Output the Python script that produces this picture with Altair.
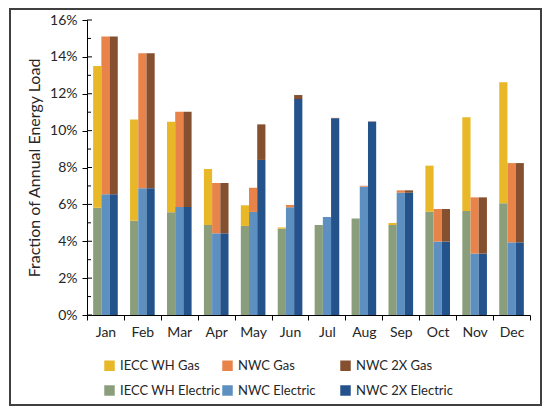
import altair as alt
import pandas as pd

# Datos (fraccion de la carga anual)
months = ["Jan", "Feb", "Mar", "Apr", "May", "Jun", "Jul", "Aug", "Sep", "Oct", "Nov", "Dec"]
groups = ["IECC WH", "NWC", "NWC 2X"]

iecc_elec = [0.0582, 0.0511, 0.0557, 0.0488, 0.0483, 0.0468, 0.0488, 0.0524, 0.0488, 0.0560, 0.0564, 0.0606]
iecc_gas = [0.0768, 0.0550, 0.0491, 0.0304, 0.0112, 0.0007, 0.0000, 0.0000, 0.0011, 0.0250, 0.0508, 0.0656]
nwc_elec = [0.0655, 0.0687, 0.0586, 0.0443, 0.0559, 0.0584, 0.0531, 0.0696, 0.0663, 0.0398, 0.0333, 0.0394]
nwc_gas = [0.0855, 0.0732, 0.0517, 0.0273, 0.0131, 0.0013, 0.0000, 0.0005, 0.0013, 0.0177, 0.0305, 0.0430]
x2_elec = [0.0655, 0.0687, 0.0586, 0.0443, 0.0841, 0.1171, 0.1067, 0.1048, 0.0663, 0.0398, 0.0333, 0.0394]
x2_gas = [0.0855, 0.0732, 0.0517, 0.0273, 0.0193, 0.0022, 0.0002, 0.0002, 0.0013, 0.0177, 0.0305, 0.0430]

series_names = ["IECC WH Gas", "NWC Gas", "NWC 2X Gas",
                "IECC WH Electric", "NWC Electric", "NWC 2X Electric"]
series_colors = ["#E9B828", "#E8844A", "#84502F", "#8A9E7C", "#5D8FC0", "#24528B"]

major_ticks = [0.0, 0.02, 0.04, 0.06, 0.08, 0.10, 0.12, 0.14, 0.16]
minor_ticks = [0.01, 0.03, 0.05, 0.07, 0.09, 0.11, 0.13, 0.15]

# Tabla larga con inicio y fin de cada segmento apilado
rows = []
for g, elec, gas in zip(groups, [iecc_elec, nwc_elec, x2_elec], [iecc_gas, nwc_gas, x2_gas]):
    for i, m in enumerate(months):
        rows.append({"month": m, "group": g, "series": g + " Electric", "y0": 0.0, "y1": elec[i]})
        rows.append({"month": m, "group": g, "series": g + " Gas", "y0": elec[i], "y1": elec[i] + gas[i]})
df = pd.DataFrame(rows)

font = "Lato"
text_color = "#262626"
y_title = "Fraction of Annual Energy Load"
y_scale = alt.Scale(domain=[0, 0.16], nice=False)
y_axis = alt.Axis(format=".0%", values=major_ticks, tickSize=5, labelPadding=5,
                  labelOverlap=False, labelFontSize=14, titleFontSize=16,
                  titleFontWeight="normal", titlePadding=7, grid=False,
                  domainColor="#000000", tickColor="#000000")

bars = alt.Chart(df).mark_bar(opacity=1).encode(
    x=alt.X("month:N", sort=months, title=None,
            scale=alt.Scale(paddingInner=0, paddingOuter=0),
            axis=alt.Axis(labelAngle=0, tickBand="extent", tickSize=5, labelPadding=5,
                          labelFontSize=14, domainColor="#000000", tickColor="#000000")),
    xOffset=alt.XOffset("group:N", sort=groups,
                        scale=alt.Scale(paddingInner=0, paddingOuter=0.75)),
    y=alt.Y("y0:Q", title=y_title, scale=y_scale, axis=y_axis),
    y2="y1:Q",
    color=alt.Color("series:N", title=None,
                    scale=alt.Scale(domain=series_names, range=series_colors),
                    legend=alt.Legend(orient="none", legendX=16, legendY=339, columns=3,
                                      direction="horizontal", gridAlign="all",
                                      symbolType="square", symbolSize=110,
                                      symbolStrokeWidth=0, symbolOpacity=1, labelFontSize=13,
                                      labelOffset=4, rowPadding=11, columnPadding=0,
                                      labelLimit=200)),
)

# marcas interiores de los ticks (mayores cruzan el eje, menores solo hacia dentro)
tick_major = alt.Chart(pd.DataFrame({"v": major_ticks})).mark_rule(color="#000000").encode(
    y=alt.Y("v:Q", title=y_title, scale=y_scale, axis=y_axis), x=alt.value(0), x2=alt.value(5)
)
tick_minor = alt.Chart(pd.DataFrame({"v": minor_ticks})).mark_rule(color="#000000").encode(
    y=alt.Y("v:Q", title=y_title, scale=y_scale, axis=y_axis), x=alt.value(0), x2=alt.value(4)
)

frame = alt.Chart(pd.DataFrame({"a": [0]})).mark_rect(
    fill=None, stroke="#404040", strokeWidth=2
).encode(
    x=alt.value(-77), x2=alt.value(454), y=alt.value(-11), y2=alt.value(385)
)

chart = alt.layer(frame, bars, tick_major, tick_minor).properties(
    width=443, height=295,
    autosize=alt.AutoSizeParams(type="none"),
    padding={"left": 79, "top": 12, "right": 12, "bottom": 91},
).configure(
    font=font,
).configure_view(
    stroke=None
).configure_axis(
    labelColor=text_color, titleColor=text_color, labelFont=font, titleFont=font
).configure_legend(
    labelColor=text_color, labelFont=font
)

chart.save("out.html", embed_options={"renderer": "svg", "actions": False})
